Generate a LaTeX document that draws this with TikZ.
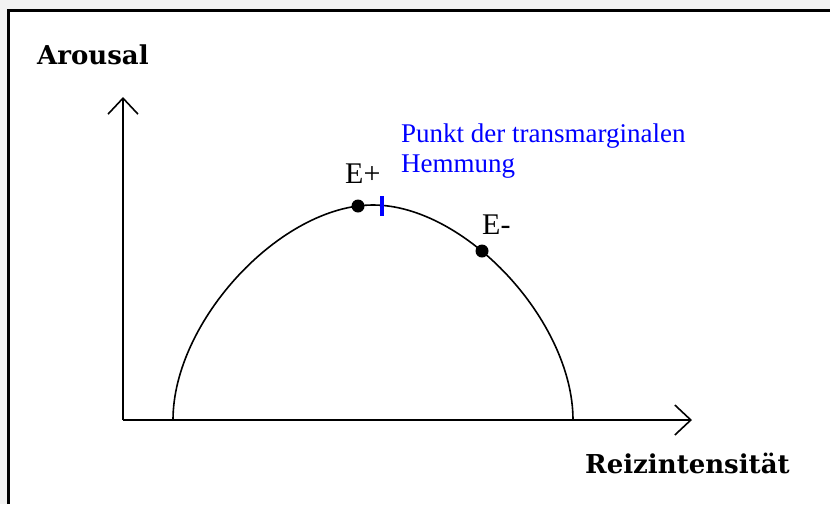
\documentclass[tikz,border=0pt]{standalone}
\usepackage{fontspec}
\setmainfont{Liberation Serif}
\newfontfamily\slabfont{DejaVu Serif}
\usetikzlibrary{arrows.meta, positioning}
\definecolor{pagegray}{HTML}{F2F2F2}
\definecolor{labelblue}{RGB}{0,0,255}

\begin{document}
\begin{tikzpicture}[
    x=1pt, y=-1pt,
    axis/.style={line width=1.8pt, -{Straight Barb[length=16pt, width=30pt, line width=1.6pt]}},
    curve/.style={line width=1.6pt},
    dot/.style={circle, fill=black, inner sep=0pt, minimum size=13pt},
    hemmtick/.style={rectangle, fill=labelblue, inner sep=0pt, minimum width=4pt, minimum height=20pt},
    axislabel/.style={inner sep=0pt, anchor=base west, font=\slabfont\bfseries\fontsize{26}{30}\selectfont},
    ptlabel/.style={inner sep=0pt, anchor=base west, font=\fontsize{30}{34}\selectfont},
    note/.style={inner sep=0pt, anchor=base west, align=left, text=labelblue, font=\fontsize{27}{30}\selectfont}
]
    \useasboundingbox (0,0) rectangle (830,504);

    % Background and frame
    \fill [pagegray] (0,0) rectangle (830,504);
    \fill [white] (8.5,10.5) rectangle (830,504);
    \draw [line width=2.5pt] (8.5,504) -- (8.5,10.5) -- (830,10.5);

    % Axes
    \coordinate (origin) at (123,420);
    \coordinate (ytip) at (123,97);
    \coordinate (xtip) at (692,420);
    \draw [axis] (origin) -- (ytip);
    \draw [axis] (origin) -- (xtip);

    \node (ylabel) [axislabel] at (37,64) {Arousal};
    \node (xlabel) [axislabel] at (585,473) {Reizintensität};

    % Arousal curve
    \coordinate (cstart) at (173,420);
    \coordinate (cpeak) at (373,205);
    \coordinate (cend) at (573,420);
    \draw [curve] (cstart) .. controls (173,321) and (281,205) .. (cpeak)
        .. controls (465,205) and (573,321) .. (cend);

    % Points on the curve
    \node (eplus) [dot] at (358,206) {};
    \node (eminus) [dot] at (482,251) {};
    \node (hemm) [hemmtick] at (382,206) {};

    \node (eplustext) [ptlabel] at (345,183) {E+};
    \node (eminustext) [ptlabel] at (482,234) {E-};
    \node (hemmtext) [note] at (401,172) {Punkt der transmarginalen\\Hemmung};
\end{tikzpicture}
\end{document}
